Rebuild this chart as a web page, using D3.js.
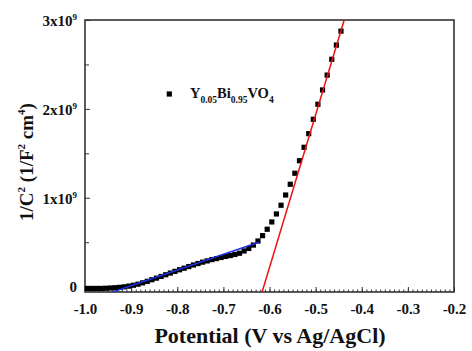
<!DOCTYPE html>
<html>
<head>
<meta charset="utf-8">
<script src="https://cdn.jsdelivr.net/npm/d3@7"></script>
<style>
  body { margin: 0; background: #fff; }
  text { font-family: "Liberation Serif", "Times New Roman", serif; font-weight: bold; fill: #111; }
</style>
</head>
<body>
<div id="chart"></div>
<script>
const svgWidth = 472;
const svgHeight = 351;

const margin = { top: 20, right: 18, bottom: 59, left: 85 };
const width = svgWidth - margin.left - margin.right;
const height = svgHeight - margin.top - margin.bottom;

// Mott-Schottky data, 1/C^2 in units of 1e9
const potential = [
  -0.995, -0.985, -0.975, -0.965, -0.955, -0.945, -0.935, -0.925, -0.915, -0.905,
  -0.895, -0.885, -0.875, -0.865, -0.855, -0.845, -0.835, -0.825, -0.815, -0.805,
  -0.795, -0.785, -0.775, -0.765, -0.755, -0.745, -0.735, -0.725, -0.715, -0.705,
  -0.695, -0.685, -0.675, -0.665, -0.655, -0.645, -0.635, -0.625, -0.615, -0.605,
  -0.595, -0.585, -0.575, -0.565, -0.555, -0.545, -0.535, -0.525, -0.515, -0.505,
  -0.495, -0.485, -0.475, -0.465, -0.455, -0.445
];
const invC2 = [
  -0.02, -0.02, -0.02, -0.02, -0.018, -0.015, -0.012, -0.008, -0.002, 0.006,
  0.016, 0.028, 0.043, 0.06, 0.078, 0.096, 0.115, 0.134, 0.153, 0.172,
  0.19, 0.208, 0.226, 0.244, 0.26, 0.276, 0.29, 0.304, 0.316, 0.328,
  0.34, 0.35, 0.362, 0.376, 0.402, 0.43, 0.468, 0.514, 0.574, 0.646,
  0.728, 0.818, 0.916, 1.031, 1.152, 1.276, 1.417, 1.568, 1.721, 1.883,
  2.052, 2.213, 2.38, 2.558, 2.718, 2.875
];

// linear fits
const redFitX = [-0.616, -0.438];
const redFitY = [-0.06, 3.0];
const blueFitX = [-0.94, -0.623];
const blueFitY = [-0.06, 0.50];

const xTicks = [-1.0, -0.9, -0.8, -0.7, -0.6, -0.5, -0.4, -0.3, -0.2];
const yTicks = [0, 1, 2, 3];

const svg = d3.select("#chart")
  .append("svg")
  .attr("width", svgWidth)
  .attr("height", svgHeight);

const chartGroup = svg.append("g")
  .attr("transform", `translate(${margin.left}, ${margin.top})`);

const x = d3.scaleLinear().domain([-1.0, -0.2]).range([0, width]);
const y = d3.scaleLinear().domain([-0.06, 3.0]).range([height, 0]);

// clip for fit lines
svg.append("defs").append("clipPath").attr("id", "clip")
  .append("rect").attr("width", width).attr("height", height);

// minor ticks (inward)
const xMinor = d3.range(0, 81).map(i => -1.0 + i * 0.01);
chartGroup.append("g")
  .attr("transform", `translate(0, ${height})`)
  .call(d3.axisBottom(x).tickValues(xMinor).tickSize(-2.5).tickFormat(""))
  .call(g => g.select(".domain").remove())
  .selectAll("line").attr("stroke", "#333");

chartGroup.append("g")
  .call(d3.axisLeft(y).tickValues([0.5, 1.5, 2.5]).tickSize(-4).tickFormat(""))
  .call(g => g.select(".domain").remove())
  .selectAll("line").attr("stroke", "#333");

// major ticks
const xAxis = chartGroup.append("g")
  .attr("transform", `translate(0, ${height})`)
  .call(d3.axisBottom(x).tickValues(xTicks).tickSizeInner(-5).tickSizeOuter(0).tickPadding(11)
    .tickFormat(d3.format(".1f")));
xAxis.select(".domain").remove();
xAxis.selectAll("line").attr("stroke", "#333");
xAxis.selectAll("text").attr("font-size", 15).attr("fill", "#111")
  .text(d => d3.format(".1f")(d).replace("−", "-"));

const yAxis = chartGroup.append("g")
  .call(d3.axisLeft(y).tickValues(yTicks).tickSizeInner(-5).tickSizeOuter(0).tickPadding(8)
    .tickFormat(""));
yAxis.select(".domain").remove();
yAxis.selectAll("line").attr("stroke", "#333");
yAxis.selectAll(".tick").each(function(d) {
  const t = d3.select(this).append("text")
    .attr("x", -8).attr("dy", "0.35em")
    .attr("text-anchor", "end").attr("font-size", 15);
  if (d === 0) {
    t.text("0");
  } else {
    t.append("tspan").text(d + "x10");
    t.append("tspan").attr("font-size", 9).attr("dy", "-0.6em").text("9");
  }
});

// frame
chartGroup.append("rect")
  .attr("width", width).attr("height", height)
  .attr("fill", "none").attr("stroke", "#333").attr("stroke-width", 1.6);

// data points
chartGroup.selectAll("rect.pt")
  .data(potential.map((p, i) => [p, invC2[i]]))
  .enter()
  .append("rect")
  .attr("class", "pt")
  .attr("x", d => x(d[0]) - 2.6)
  .attr("y", d => y(d[1]) - 2.6)
  .attr("width", 5.2)
  .attr("height", 5.2)
  .attr("fill", "#000");

const line = d3.line().x(d => x(d[0])).y(d => y(d[1]));

chartGroup.append("path")
  .datum(blueFitX.map((v, i) => [v, blueFitY[i]]))
  .attr("d", line)
  .attr("clip-path", "url(#clip)")
  .attr("fill", "none").attr("stroke", "#1f2fe0").attr("stroke-width", 1.5);

chartGroup.append("path")
  .datum(redFitX.map((v, i) => [v, redFitY[i]]))
  .attr("d", line)
  .attr("clip-path", "url(#clip)")
  .attr("fill", "none").attr("stroke", "#ee1111").attr("stroke-width", 1.5);

// legend
chartGroup.append("rect")
  .attr("x", 169.3 - margin.left - 2.6).attr("y", 94 - margin.top - 2.6)
  .attr("width", 5.2).attr("height", 5.2).attr("fill", "#000");

const legendText = chartGroup.append("text")
  .attr("x", 190 - margin.left).attr("y", 98 - margin.top)
  .attr("font-size", 14.5);
legendText.append("tspan").text("Y");
legendText.append("tspan").attr("font-size", 9.5).attr("dy", 5).text("0.05");
legendText.append("tspan").attr("dy", -5).text("Bi");
legendText.append("tspan").attr("font-size", 9.5).attr("dy", 5).text("0.95");
legendText.append("tspan").attr("dy", -5).text("VO");
legendText.append("tspan").attr("font-size", 9.5).attr("dy", 5).text("4");

// x axis title
svg.append("text")
  .attr("x", 270).attr("y", 343)
  .attr("text-anchor", "middle").attr("font-size", 22)
  .text("Potential (V vs Ag/AgCl)");

// y axis title
const yTitle = svg.append("text")
  .attr("transform", `translate(33, ${margin.top + height / 2 + 6}) rotate(-90)`)
  .attr("text-anchor", "middle").attr("font-size", 19);
yTitle.append("tspan").text("1/C");
yTitle.append("tspan").attr("font-size", 11).attr("dy", -8).text("2");
yTitle.append("tspan").attr("dy", 8).text(" (1/F");
yTitle.append("tspan").attr("font-size", 11).attr("dy", -8).text("2");
yTitle.append("tspan").attr("dy", 8).text(" cm");
yTitle.append("tspan").attr("font-size", 11).attr("dy", -8).text("4");
yTitle.append("tspan").attr("dy", 8).text(")");
</script>
</body>
</html>
